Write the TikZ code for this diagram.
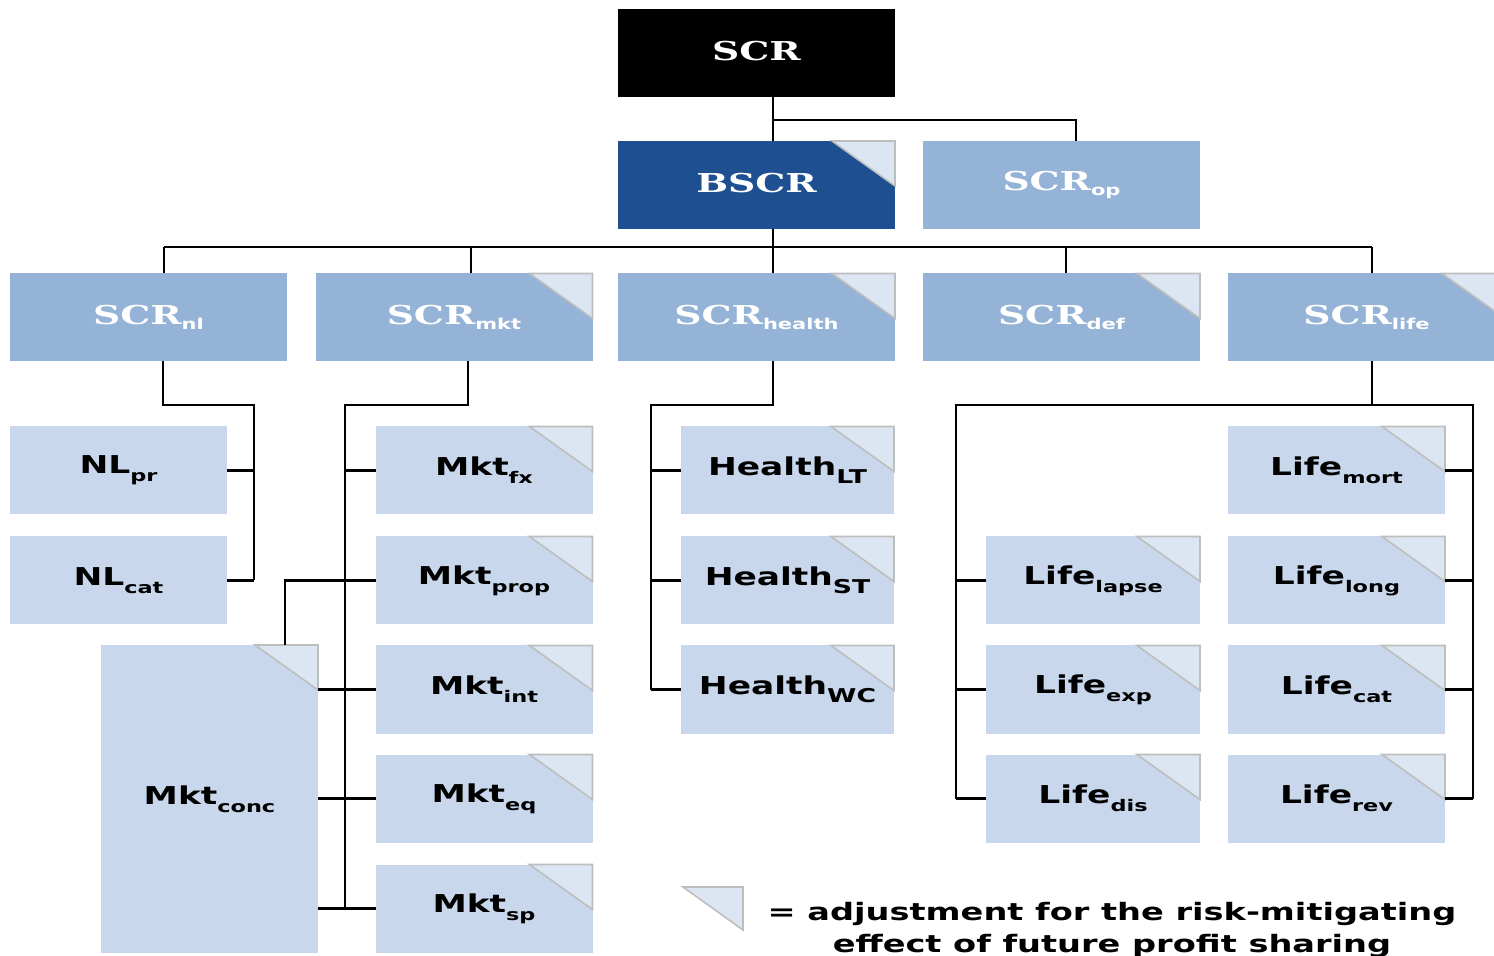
\documentclass[tikz,border=0pt]{standalone}
\usepackage{fontspec}
\newfontfamily\serifb[FakeStretch=1.45]{DejaVu Serif}
\newfontfamily\sansb[FakeStretch=1.4]{DejaVu Sans}

\definecolor{scrblack}{RGB}{0,0,0}
\definecolor{bscrblue}{RGB}{30,79,145}
\definecolor{midblue}{RGB}{149,179,215}
\definecolor{lightblue}{RGB}{200,215,235}
\definecolor{foldfill}{RGB}{220,230,242}
\definecolor{foldedge}{RGB}{190,190,190}

% white serif label with optional sans subscript
\newcommand\wlab[2]{{\serifb\bfseries\fontsize{13}{15}\selectfont #1}\raisebox{-2.5pt}{\sansb\bfseries\fontsize{7.5}{9}\selectfont #2}}
% black sans label with subscript
\newcommand\blab[2]{{\sansb\bfseries\fontsize{12.3}{14}\selectfont #1}\raisebox{-4pt}{\sansb\bfseries\fontsize{8}{9}\selectfont #2}}
% black sans label with capital subscript
\newcommand\blabc[2]{{\sansb\bfseries\fontsize{12.3}{14}\selectfont #1}\raisebox{-4pt}{\sansb\bfseries\fontsize{9.5}{10}\selectfont #2}}

\begin{document}
\begin{tikzpicture}[x=0.5pt,y=-0.5pt,
  every node/.style={inner sep=0pt,outer sep=0pt},
  bigbox/.style={rectangle,minimum width=138.5pt,minimum height=44pt,text=white},
  smallbox/.style={rectangle,minimum width=108.5pt,minimum height=44pt,fill=lightblue,text=black},
  conn/.style={draw=black,line width=1.2pt},
  fold/.style={fill=foldfill,draw=foldedge,line width=0.8pt,line join=miter}]
\useasboundingbox (0,0) rectangle (1494,956);

% ---------- top levels ----------
\node[bigbox,fill=scrblack] (scr) at (756.5,53.5) {\wlab{SCR}{}};
\node[bigbox,fill=bscrblue] (bscr) at (756.5,185) {\wlab{BSCR}{}};
\node[bigbox,fill=midblue] (scrop) at (1061.5,185) {\wlab{SCR}{op}};

% ---------- risk modules ----------
\node[bigbox,fill=midblue] (scrnl) at (148.5,317.5) {\wlab{SCR}{nl}};
\node[bigbox,fill=midblue] (scrmkt) at (454,317.5) {\wlab{SCR}{mkt}};
\node[bigbox,fill=midblue] (scrhealth) at (756.5,317.5) {\wlab{SCR}{health}};
\node[bigbox,fill=midblue] (scrdef) at (1061.5,317.5) {\wlab{SCR}{def}};
\node[bigbox,fill=midblue] (scrlife) at (1366.5,317.5) {\wlab{SCR}{life}};

% ---------- sub-modules ----------
\node[smallbox] (nlpr) at (118.5,470.5) {\blab{NL}{pr}};
\node[smallbox] (nlcat) at (118.5,580.5) {\blab{NL}{cat}};

\node[smallbox] (mktfx) at (484,470.5) {\blab{Mkt}{fx}};
\node[smallbox] (mktprop) at (484,580.5) {\blab{Mkt}{prop}};
\node[smallbox] (mktint) at (484,689.5) {\blab{Mkt}{int}};
\node[smallbox] (mkteq) at (484,798.5) {\blab{Mkt}{eq}};
\node[smallbox] (mktsp) at (484,908.5) {\blab{Mkt}{sp}};
\node[smallbox,minimum height=154pt] (mktconc) at (209.5,799) {\blab{Mkt}{conc}};

\node[smallbox,minimum width=106.5pt] (hlt) at (787.5,470.5) {\blabc{Health}{LT}};
\node[smallbox,minimum width=106.5pt] (hst) at (787.5,580.5) {\blabc{Health}{ST}};
\node[smallbox,minimum width=106.5pt] (hwc) at (787.5,689.5) {\blabc{Health}{WC}};

\node[smallbox] (lifemort) at (1336.5,470.5) {\blab{Life}{mort}};
\node[smallbox] (lifelong) at (1336.5,580.5) {\blab{Life}{long}};
\node[smallbox] (lifecat) at (1336.5,689.5) {\blab{Life}{cat}};
\node[smallbox] (liferev) at (1336.5,798.5) {\blab{Life}{rev}};
\node[smallbox,minimum width=107pt] (lifelapse) at (1093,580.5) {\blab{Life}{lapse}};
\node[smallbox,minimum width=107pt] (lifeexp) at (1093,689.5) {\blab{Life}{exp}};
\node[smallbox,minimum width=107pt] (lifedis) at (1093,798.5) {\blab{Life}{dis}};

% ---------- profit-sharing corner marks ----------
\foreach \n in {bscr,scrmkt,scrhealth,scrdef,scrlife,
                mktfx,mktprop,mktint,mkteq,mktsp,mktconc,
                hlt,hst,hwc,
                lifemort,lifelong,lifecat,liferev,lifelapse,lifeexp,lifedis}
  \draw[fold] ([xshift=-31.5pt]\n.north east) -- (\n.north east)
              -- ([yshift=-22.5pt]\n.north east) -- cycle;

% ---------- connectors ----------
\draw[conn] ([xshift=8.25pt]scr.south) -- ([xshift=8.25pt]bscr.north);
\coordinate (opj) at (773,120);
\draw[conn] (opj) -| ([xshift=7.25pt]scrop.north);
\draw[conn] ([xshift=8.25pt]bscr.south) -- ([xshift=8.25pt]scrhealth.north);

\coordinate (busL) at (164,247);
\coordinate (busR) at (1372,247);
\draw[conn] (busL) -- (busR);
\draw[conn] (busL) -- (busL |- scrnl.north);
\draw[conn] ([xshift=8.5pt]scrmkt.north) -- ([xshift=8.5pt]scrmkt.north |- busL);
\draw[conn] ([xshift=2.25pt]scrdef.north) -- ([xshift=2.25pt]scrdef.north |- busL);
\draw[conn] ([xshift=2.75pt]scrlife.north) -- ([xshift=2.75pt]scrlife.north |- busL);

% non-life
\coordinate (nlT) at (254,405);
\draw[conn] ([xshift=7.25pt]scrnl.south) |- (nlT) -- (nlT |- nlcat.east);
\draw[conn] (nlpr.east) -- (nlpr.east -| nlT);
\draw[conn] (nlcat.east) -- (nlcat.east -| nlT);

% market
\coordinate (mkT) at (345,405);
\coordinate (cj) at (285,0);
\draw[conn] ([xshift=7pt]scrmkt.south) |- (mkT) -- (mkT |- mktsp.west);
\foreach \n in {mktfx,mktint,mkteq,mktsp}
  \draw[conn] (\n.west) -- (\n.west -| mkT);
\draw[conn] (mktprop.west) -- (mktprop.west -| cj) -- (cj |- mktconc.north);
\foreach \n in {mktint,mkteq,mktsp}
  \draw[conn] (mktconc.east |- \n.west) -- (\n.west -| mkT);

% health
\coordinate (hT) at (651,405);
\draw[conn] ([xshift=8.25pt]scrhealth.south) |- (hT) -- (hT |- hwc.west);
\foreach \n in {hlt,hst,hwc}
  \draw[conn] (\n.west) -- (\n.west -| hT);

% life
\coordinate (lL) at (956,405);
\coordinate (lR) at (1473,405);
\draw[conn] ([xshift=2.75pt]scrlife.south) -- ([xshift=2.75pt]scrlife.south |- lL);
\draw[conn] (lL |- lifedis.west) -- (lL) -- (lR) -- (lR |- liferev.east);
\foreach \n in {lifelapse,lifeexp,lifedis}
  \draw[conn] (\n.west) -- (\n.west -| lL);
\foreach \n in {lifemort,lifelong,lifecat,liferev}
  \draw[conn] (\n.east) -- (\n.east -| lR);

% ---------- legend ----------
\coordinate (legtri) at (743,887);
\draw[fold] ([xshift=-30pt]legtri) -- (legtri) -- ([yshift=-21.5pt]legtri) -- cycle;
\node[anchor=north,align=center,font=\sansb\bfseries\fontsize{12}{16}\selectfont] (legend) at (1112,902)
  {= adjustment for the risk-mitigating\\effect of future profit sharing};
\end{tikzpicture}
\end{document}
